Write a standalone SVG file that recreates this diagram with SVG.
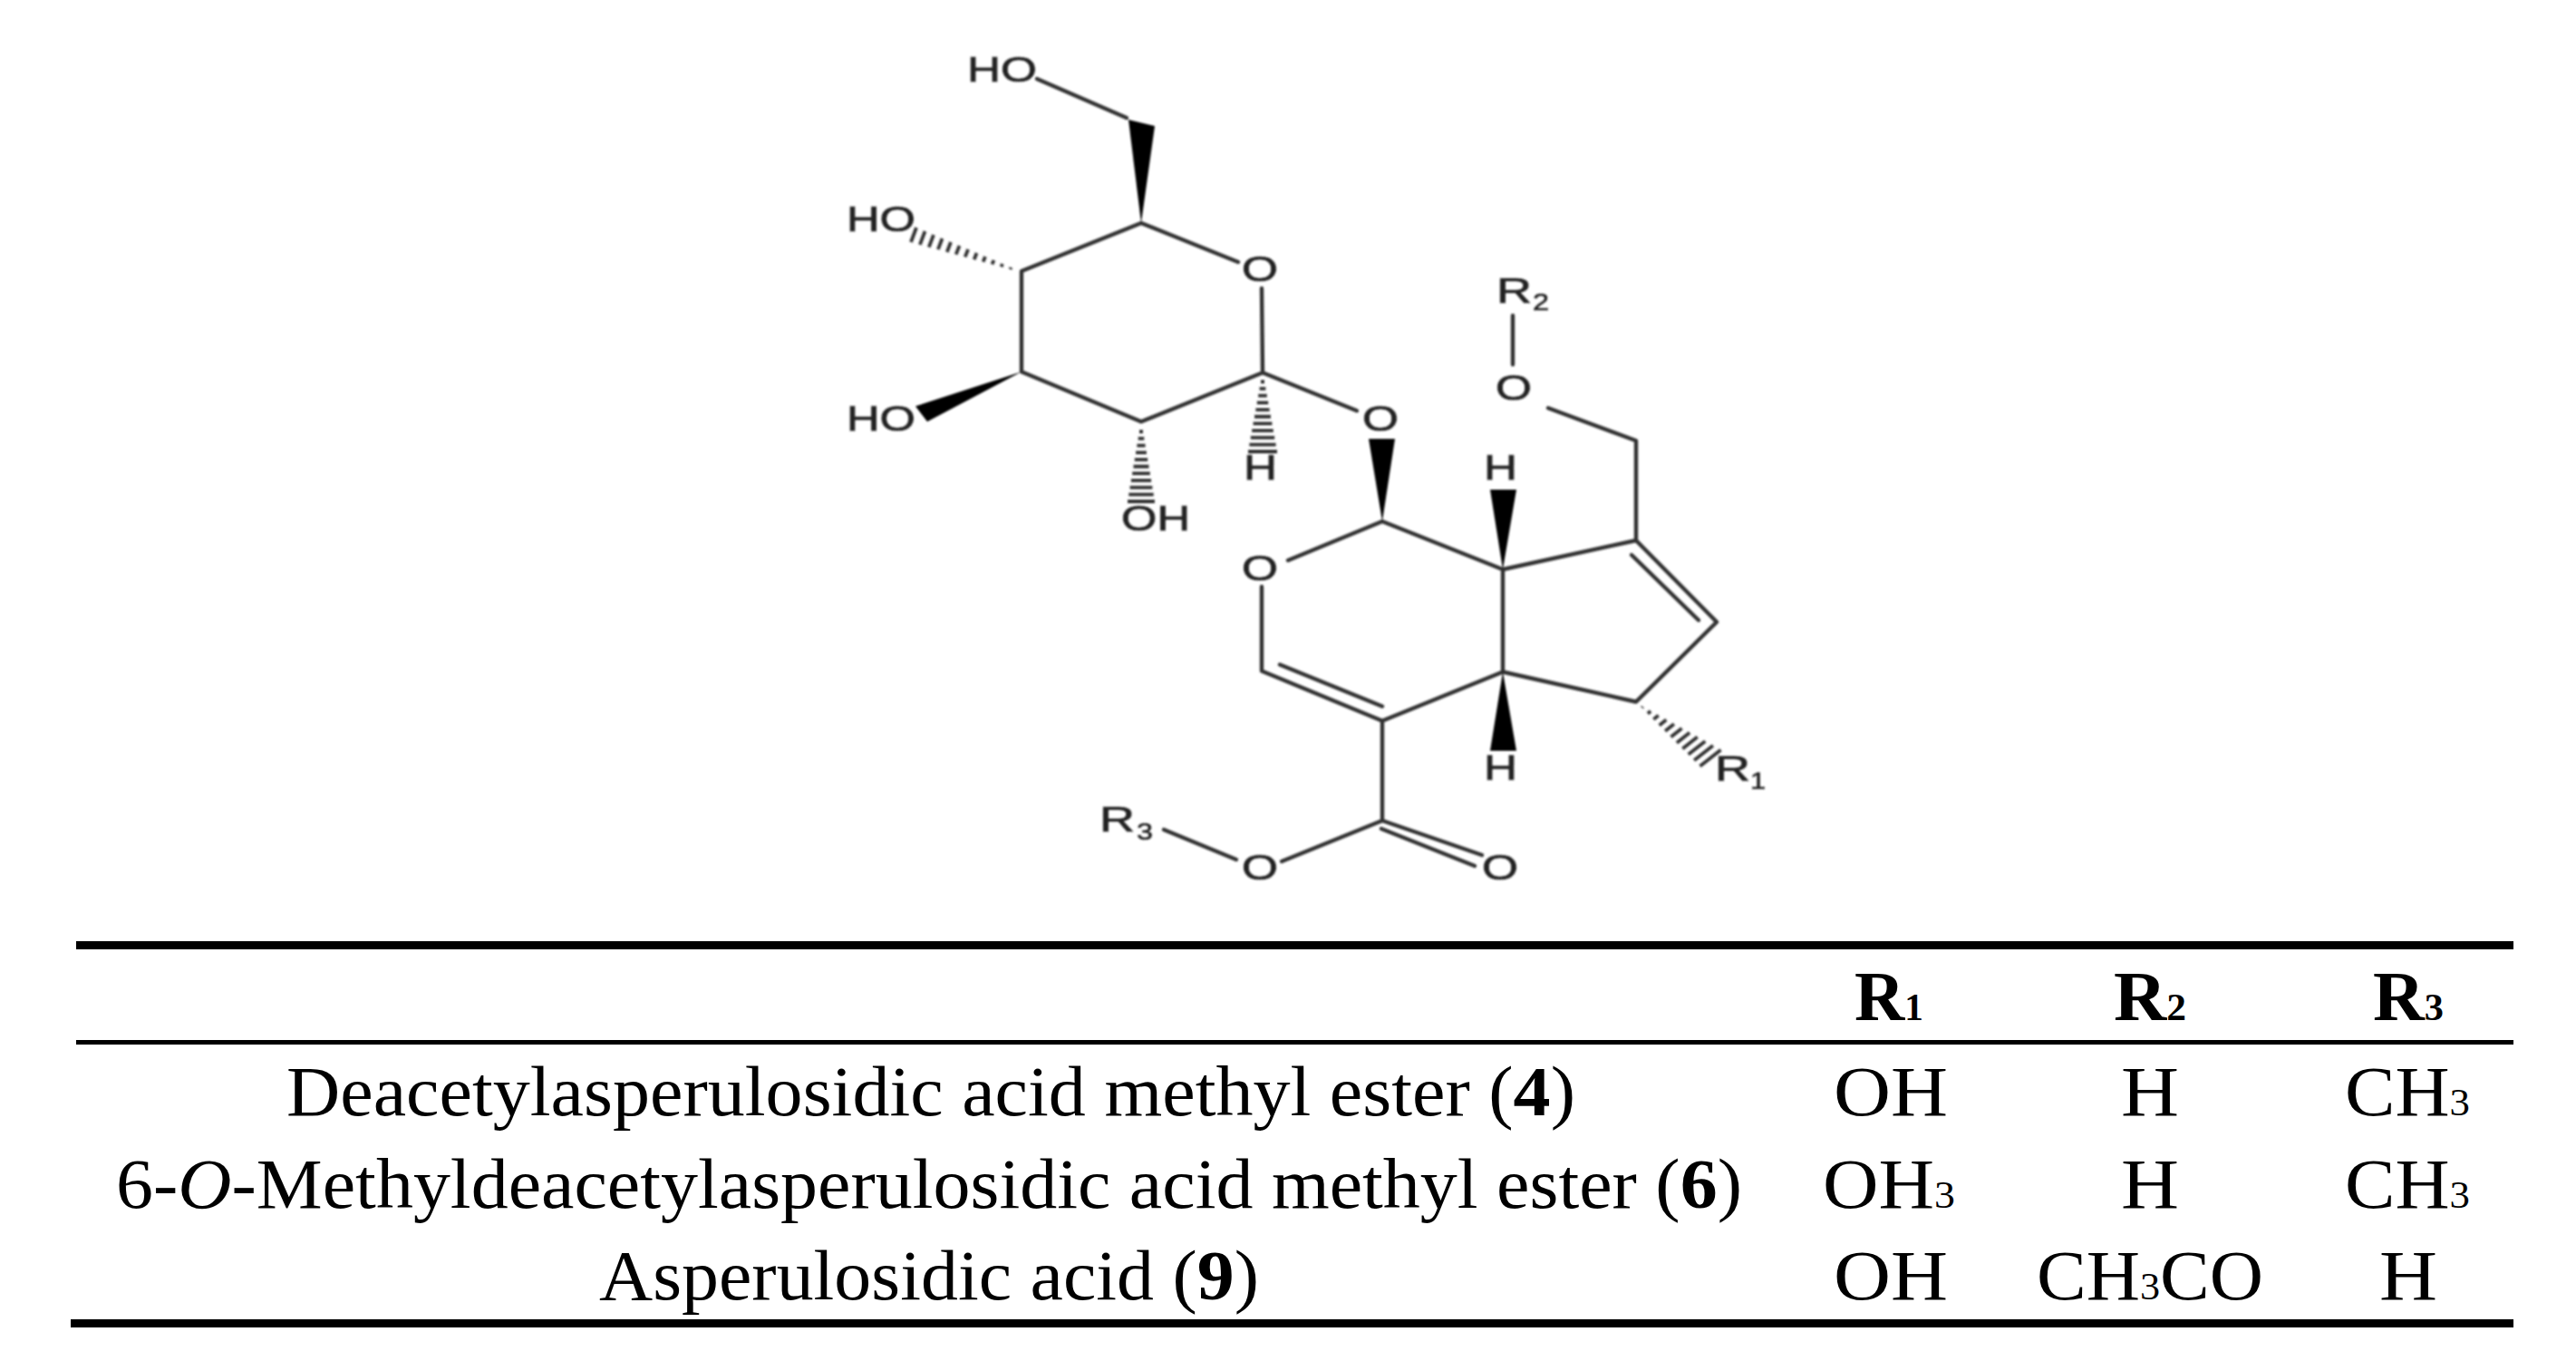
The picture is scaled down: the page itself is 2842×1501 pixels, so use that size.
<svg xmlns="http://www.w3.org/2000/svg" width="2842" height="1501" viewBox="0 0 2842 1501">
<style>
.b{fill:none;stroke:#333;stroke-width:4.4;stroke-linecap:round;stroke-linejoin:round}
.h{fill:none;stroke:#333;stroke-width:3.8}
.w{fill:#000;stroke:none}
.a{font-family:"Liberation Sans",Arial,sans-serif;font-size:38px;fill:#222;stroke:#222;stroke-width:.7}
.s{font-family:"Liberation Sans",Arial,sans-serif;font-size:26px;fill:#222;stroke:#222;stroke-width:.5}
.t{font-family:"Liberation Serif","Times New Roman",serif;font-size:78px;fill:#000}
.sub{font-size:42px}
.bold{font-weight:bold}
.it{font-style:italic}
.r{fill:#000}
</style>
<defs><filter id="soft" x="-5%" y="-5%" width="110%" height="110%"><feGaussianBlur stdDeviation="0.9"/></filter></defs>
<rect width="2842" height="1501" fill="#fff"/>
<g id="molecule" filter="url(#soft)">
<g id="bonds">
<path class="b" d="M1144 87L1243 130"/>
<path class="b" d="M1366 289L1259 246L1127 299L1127 410L1259 465L1393 411L1392 318"/>
<path class="b" d="M1393 411L1497 453"/>
<path class="b" d="M1421 618L1525 575L1658 628L1805 596L1805 486L1708 450"/>
<path class="b" d="M1669 348L1669 402"/>
<path class="b" d="M1658 628L1658 741L1805 774L1894 686L1805 596"/>
<path class="b" d="M1800 612L1874 684"/>
<path class="b" d="M1658 741L1525 795L1392 740L1392 647"/>
<path class="b" d="M1412 733L1525 779"/>
<path class="b" d="M1525 795L1525 905L1414 950"/>
<path class="b" d="M1525 905L1635 943M1524 914L1627 955"/>
<path class="b" d="M1284 915L1364 948"/>
</g>
<g id="wedges">
<polygon class="w" points="1245,132 1274,139 1259,246"/>
<polygon class="w" points="1127,410 1010,448 1023,465"/>
<polygon class="w" points="1510,484 1539,484 1525,575"/>
<polygon class="w" points="1644,540 1673,540 1658,628"/>
<polygon class="w" points="1644,828 1673,828 1658,741"/>
</g>
<g id="hashes">
<path class="h" d="M1115.5 295L1114.5 297M1106 291L1104.6 294.2M1096.5 287L1094.5 291.6M1087 283L1084.6 288.8M1077.5 279L1074.7 286.2M1068.1 275L1064.7 283.4M1058.5 271L1054.7 280.6M1049 267L1044.8 278M1039.5 263L1034.9 275.2M1030 259L1024.8 272.6M1020.5 255L1014.9 269.8M1011 251L1005 267"/>
<path class="h" d="M1257 476H1261M1255.7 483.7H1262.3M1254.4 491.4H1263.6M1253.1 499.1H1264.9M1251.8 506.8H1266.2M1250.5 514.5H1267.5M1249.2 522.2H1268.8M1247.9 529.9H1270.1M1246.6 537.6H1271.4M1245.3 545.3H1272.7M1244 553H1274"/>
<path class="h" d="M1391 421H1395M1389.6 428.7H1396.4M1388.2 436.4H1397.8M1386.8 444.1H1399.2M1385.4 451.8H1400.6M1384 459.5H1402M1382.6 467.2H1403.4M1381.2 474.9H1404.8M1379.8 482.6H1406.2M1378.4 490.3H1407.6M1377 498H1409"/>
<path class="h" d="M1812.5 779.5L1811.5 780.5M1821.1 784.2L1817.9 787M1829.7 789L1824.3 793.4M1838.3 793.8L1830.7 799.9M1846.9 798.5L1837.1 806.3M1855.5 803.3L1843.5 812.8M1864.1 808L1849.9 819.2M1872.7 812.8L1856.3 825.7M1881.3 817.5L1862.7 832.1M1889.9 822.3L1869.1 838.6M1898.5 827L1875.5 845"/>
</g>
<g id="atoms">
<text class="a" x="1067" y="90" textLength="77" lengthAdjust="spacingAndGlyphs">HO</text>
<text class="a" x="934" y="255" textLength="76" lengthAdjust="spacingAndGlyphs">HO</text>
<text class="a" x="934" y="475" textLength="76" lengthAdjust="spacingAndGlyphs">HO</text>
<text class="a" x="1237" y="585" textLength="76" lengthAdjust="spacingAndGlyphs">OH</text>
<text class="a" x="1372" y="529" textLength="37" lengthAdjust="spacingAndGlyphs">H</text>
<text class="a" x="1370" y="310" textLength="40" lengthAdjust="spacingAndGlyphs">O</text>
<text class="a" x="1503" y="475" textLength="40" lengthAdjust="spacingAndGlyphs">O</text>
<text class="a" x="1637" y="529" textLength="37" lengthAdjust="spacingAndGlyphs">H</text>
<text class="a" x="1370" y="640" textLength="40" lengthAdjust="spacingAndGlyphs">O</text>
<text class="a" x="1637" y="860" textLength="37" lengthAdjust="spacingAndGlyphs">H</text>
<text class="a" x="1650" y="441" textLength="40" lengthAdjust="spacingAndGlyphs">O</text>
<text class="a" x="1370" y="970" textLength="40" lengthAdjust="spacingAndGlyphs">O</text>
<text class="a" x="1635" y="970" textLength="40" lengthAdjust="spacingAndGlyphs">O</text>
<text class="a" x="1892" y="861" textLength="39" lengthAdjust="spacingAndGlyphs">R</text>
<text class="s" x="1931" y="870" textLength="17" lengthAdjust="spacingAndGlyphs">1</text>
<text class="a" x="1651" y="334" textLength="39" lengthAdjust="spacingAndGlyphs">R</text>
<text class="s" x="1691" y="342" textLength="18" lengthAdjust="spacingAndGlyphs">2</text>
<text class="a" x="1213" y="917" textLength="39" lengthAdjust="spacingAndGlyphs">R</text>
<text class="s" x="1254" y="926" textLength="18" lengthAdjust="spacingAndGlyphs">3</text>
</g>
</g>
<g id="table">
<rect class="r" x="84" y="1038" width="2689" height="9"/>
<rect class="r" x="84" y="1147" width="2689" height="5"/>
<rect class="r" x="78" y="1455" width="2695" height="9"/>
<text class="t bold" x="2046" y="1125" textLength="76" lengthAdjust="spacingAndGlyphs">R<tspan class="sub">1</tspan></text>
<text class="t bold" x="2332" y="1125" textLength="80" lengthAdjust="spacingAndGlyphs">R<tspan class="sub">2</tspan></text>
<text class="t bold" x="2618" y="1125" textLength="78" lengthAdjust="spacingAndGlyphs">R<tspan class="sub">3</tspan></text>
<text class="t" x="316" y="1230" textLength="1422" lengthAdjust="spacingAndGlyphs">Deacetylasperulosidic acid methyl ester (<tspan class="bold">4</tspan>)</text>
<text class="t" x="2023" y="1230" textLength="126" lengthAdjust="spacingAndGlyphs">OH</text>
<text class="t" x="2340" y="1230" textLength="64" lengthAdjust="spacingAndGlyphs">H</text>
<text class="t" x="2587" y="1230" textLength="138" lengthAdjust="spacingAndGlyphs">CH<tspan class="sub">3</tspan></text>
<text class="t" x="128" y="1332" textLength="1794" lengthAdjust="spacingAndGlyphs">6-<tspan class="it">O</tspan>-Methyldeacetylasperulosidic acid methyl ester (<tspan class="bold">6</tspan>)</text>
<text class="t" x="2011" y="1332" textLength="146" lengthAdjust="spacingAndGlyphs">OH<tspan class="sub">3</tspan></text>
<text class="t" x="2340" y="1332" textLength="64" lengthAdjust="spacingAndGlyphs">H</text>
<text class="t" x="2587" y="1332" textLength="138" lengthAdjust="spacingAndGlyphs">CH<tspan class="sub">3</tspan></text>
<text class="t" x="661" y="1433" textLength="728" lengthAdjust="spacingAndGlyphs">Asperulosidic acid (<tspan class="bold">9</tspan>)</text>
<text class="t" x="2023" y="1433" textLength="126" lengthAdjust="spacingAndGlyphs">OH</text>
<text class="t" x="2247" y="1433" textLength="250" lengthAdjust="spacingAndGlyphs">CH<tspan class="sub">3</tspan>CO</text>
<text class="t" x="2625" y="1433" textLength="64" lengthAdjust="spacingAndGlyphs">H</text>
</g>
</svg>
